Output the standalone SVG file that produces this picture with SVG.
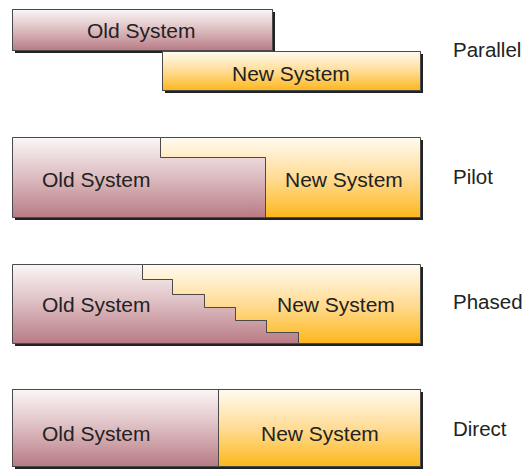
<svg xmlns="http://www.w3.org/2000/svg" width="525" height="469" viewBox="0 0 525 469">
<defs>
<linearGradient id="gOld" x1="0" y1="0" x2="0" y2="1">
<stop offset="0" stop-color="#fbf6f6"/>
<stop offset="0.5" stop-color="#dcbcc0"/>
<stop offset="1" stop-color="#b87b85"/>
</linearGradient>
<linearGradient id="gNew" x1="0" y1="0" x2="0" y2="1">
<stop offset="0" stop-color="#fffbf2"/>
<stop offset="0.5" stop-color="#ffdc95"/>
<stop offset="1" stop-color="#fdb71c"/>
</linearGradient>
</defs>
<style>
.shadow{fill:#222222}
.old{fill:url(#gOld);stroke:#4a4a4a;stroke-width:1}
.new{fill:url(#gNew);stroke:#4a4a4a;stroke-width:1}
.t{font-family:"Liberation Sans",Arial,sans-serif;font-size:21px;fill:#222222}
.lab{font-family:"Liberation Sans",Arial,sans-serif;font-size:20.5px;fill:#222222}
</style>
<rect width="525" height="469" fill="#ffffff"/>

<g id="parallel">
<rect class="shadow" x="15" y="12" width="260" height="41"/>
<rect class="old" x="12.5" y="9.5" width="260" height="41"/>
<text class="t" x="87" y="38">Old System</text>
<rect class="shadow" x="165" y="54" width="258" height="39"/>
<rect class="new" x="162.5" y="51.5" width="258" height="39"/>
<text class="t" x="232" y="81">New System</text>
<text class="lab" x="453" y="57">Parallel</text>
</g>

<g id="pilot">
<rect class="shadow" x="15" y="140" width="408" height="80"/>
<polygon class="new" points="160.5,137.5 420.5,137.5 420.5,217.5 265.5,217.5 265.5,157.5 160.5,157.5"/>
<polygon class="old" points="12.5,137.5 160.5,137.5 160.5,157.5 265.5,157.5 265.5,217.5 12.5,217.5"/>
<text class="t" x="42" y="187">Old System</text>
<text class="t" x="285" y="187">New System</text>
<text class="lab" x="453" y="184">Pilot</text>
</g>

<g id="phased">
<rect class="shadow" x="15" y="267" width="408" height="79"/>
<polygon class="new" points="142.5,264.5 420.5,264.5 420.5,343.5 298.5,343.5 298.5,332.5 266.5,332.5 266.5,320.5 235.5,320.5 235.5,307.5 204.5,307.5 204.5,294.5 172.5,294.5 172.5,279.5 142.5,279.5"/>
<polygon class="old" points="12.5,264.5 142.5,264.5 142.5,279.5 172.5,279.5 172.5,294.5 204.5,294.5 204.5,307.5 235.5,307.5 235.5,320.5 266.5,320.5 266.5,332.5 298.5,332.5 298.5,343.5 12.5,343.5"/>
<text class="t" x="42" y="312">Old System</text>
<text class="t" x="277" y="312">New System</text>
<text class="lab" x="453" y="309">Phased</text>
</g>

<g id="direct">
<rect class="shadow" x="15" y="392" width="408" height="77"/>
<rect class="new" x="218.5" y="389.5" width="202" height="77"/>
<rect class="old" x="12.5" y="389.5" width="206" height="77"/>
<text class="t" x="42" y="441">Old System</text>
<text class="t" x="261" y="441">New System</text>
<text class="lab" x="453" y="436">Direct</text>
</g>
</svg>
